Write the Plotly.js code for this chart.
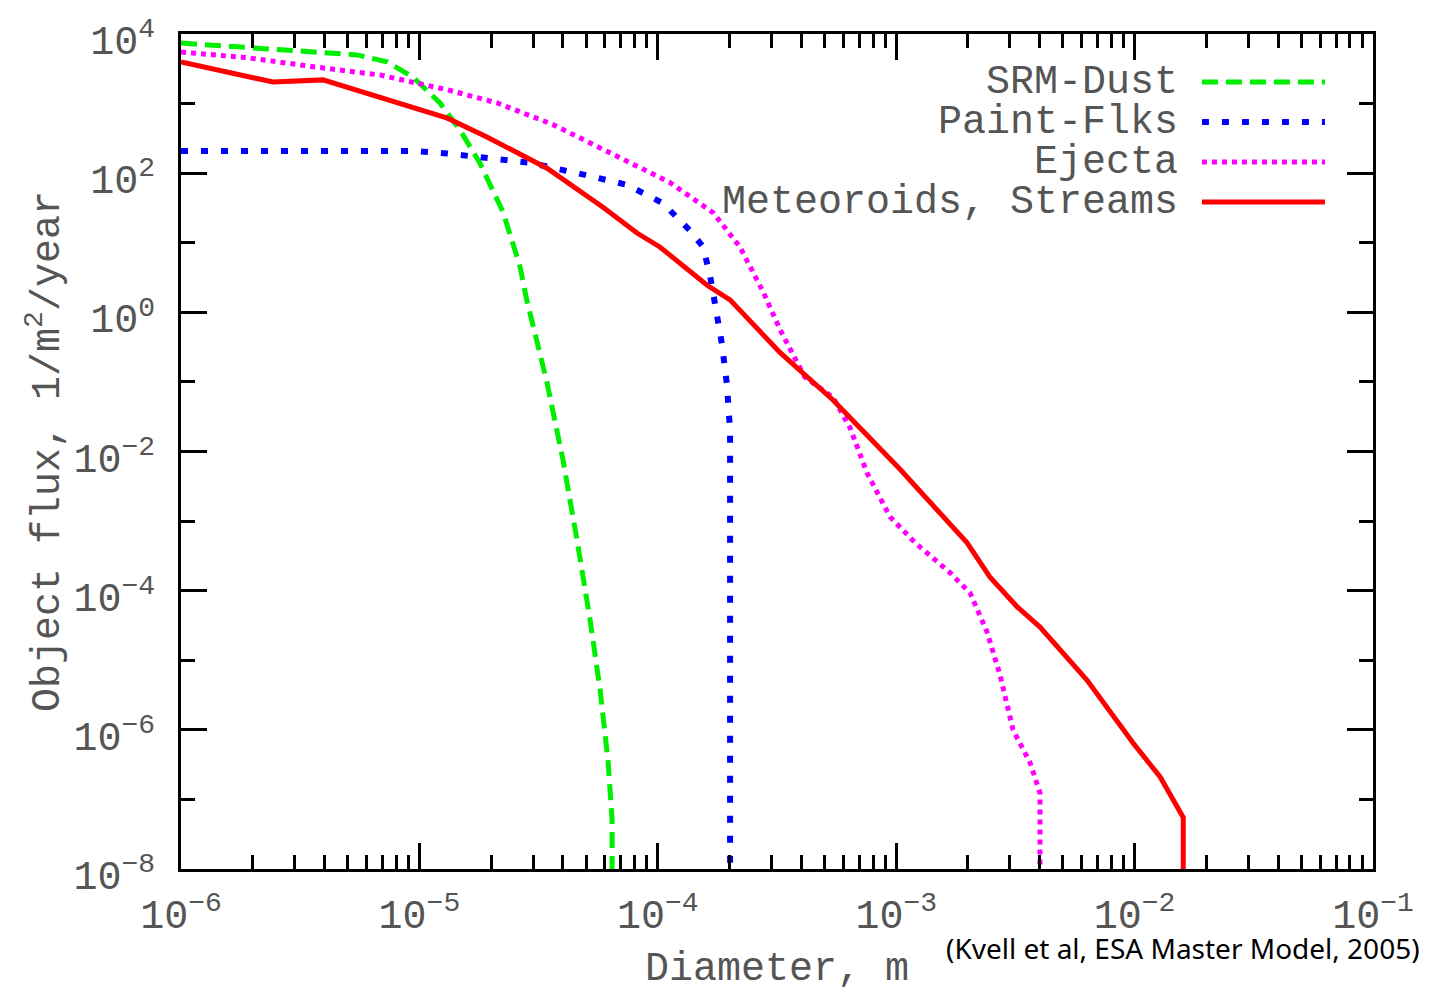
<!DOCTYPE html>
<html>
<head>
<meta charset="utf-8">
<script src="https://cdn.plot.ly/plotly-3.0.1.min.js"></script>
<style>html,body{margin:0;padding:0;background:#fff;}#chart{width:1443px;height:992px;}</style>
</head>
<body>
<div id="chart"></div>
<script>
// ---- data (diameter in m, flux in 1/m^2/year) ----
const seriesNames = ["SRM-Dust", "Paint-Flks", "Ejecta", "Meteoroids, Streams"];

const dustD = [1e-6, 2.00e-6, 3.58e-6, 5.47e-6, 7.31e-6, 9.40e-6, 1.22e-5, 1.48e-5, 1.79e-5, 2.24e-5, 2.64e-5, 2.82e-5, 3.43e-5, 4.00e-5, 4.58e-5, 5.20e-5, 5.73e-5, 6.18e-5, 6.43e-5, 6.43e-5];
const dustF = [7410, 6310, 5500, 5010, 3980, 2400, 1020, 417, 141, 28, 4.6, 1.51, 0.098, 7.6e-3, 5.4e-4, 3.8e-5, 3.7e-6, 3.7e-7, 5.1e-8, 1e-8];

const paintD = [1e-6, 9.40e-6, 1.31e-5, 1.92e-5, 2.91e-5, 5.05e-5, 7.43e-5, 1.05e-4, 1.36e-4, 1.55e-4, 1.66e-4, 1.74e-4, 1.86e-4, 1.95e-4, 2.01e-4, 2.01e-4];
const paintF = [209, 209, 191, 166, 141, 93, 68, 37, 15.1, 8.7, 3.2, 1.29, 0.34, 0.091, 0.020, 1e-8];

const ejectaD = [1e-6, 1.89e-6, 3.58e-6, 6.84e-6, 1.31e-5, 2.12e-5, 3.63e-5, 6.93e-5, 1.12e-4, 1.71e-4, 2.21e-4, 2.76e-4, 3.26e-4, 4.14e-4, 5.43e-4, 6.40e-4, 7.55e-4, 9.42e-4, 1.20e-3, 1.68e-3, 2.04e-3, 2.40e-3, 2.72e-3, 3.09e-3, 3.64e-3, 4.01e-3, 4.01e-3];
const ejectaF = [5500, 4570, 3390, 2570, 1580, 1020, 500, 170, 74, 26.9, 8.7, 2.0, 0.56, 0.117, 0.060, 0.022, 4.9e-3, 1.15e-3, 4.9e-4, 1.82e-4, 9.3e-5, 2.6e-5, 6.3e-6, 1e-6, 3.4e-7, 1.23e-7, 1e-8];

const meteorD = [1e-6, 2.43e-6, 3.94e-6, 6.84e-6, 1.31e-5, 1.92e-5, 3.43e-5, 5.89e-5, 8.18e-5, 1.02e-4, 1.61e-4, 2.01e-4, 3.26e-4, 5.43e-4, 1.04e-3, 1.98e-3, 2.47e-3, 3.21e-3, 4.01e-3, 6.31e-3, 9.84e-3, 1.28e-2, 1.60e-2, 1.60e-2];
const meteorF = [3980, 2040, 2190, 1200, 617, 331, 118, 32.4, 13.8, 8.7, 2.45, 1.51, 0.263, 0.055, 5.5e-3, 4.9e-4, 1.58e-4, 5.9e-5, 3.0e-5, 5.2e-6, 6.5e-7, 2.1e-7, 5.5e-8, 1e-8];

// ---- tick labels ----
const xTickVals = [1e-6, 1e-5, 1e-4, 1e-3, 1e-2, 1e-1];
const xTickText = ["10<sup>−6</sup>", "10<sup>−5</sup>", "10<sup>−4</sup>", "10<sup>−3</sup>", "10<sup>−2</sup>", "10<sup>−1</sup>"];
const yTickVals = [1e-8, 1e-6, 1e-4, 1e-2, 1e0, 1e2, 1e4];
const yTickText = ["10<sup>−8</sup>", "10<sup>−6</sup>", "10<sup>−4</sup>", "10<sup>−2</sup>", "10<sup>0</sup>", "10<sup>2</sup>", "10<sup>4</sup>"];

const xTitle = "Diameter, m";
const yTitle = "Object flux, 1/m<sup>2</sup>/year";
const sourceNote = "(Kvell et al, ESA Master Model, 2005)";

// ---- styles ----
const styles = [
  {color: "#00ee00", width: 5, dash: "16px,8px"},
  {color: "#0000ff", width: 6, dash: "7px,13px"},
  {color: "#ff00ff", width: 5, dash: "5px,5px"},
  {color: "#ff0000", width: 5, dash: "solid"}
];
const xs = [dustD, paintD, ejectaD, meteorD];
const ys = [dustF, paintF, ejectaF, meteorF];

const traces = seriesNames.map((n, i) => ({
  type: "scatter", mode: "lines", name: n,
  x: xs[i], y: ys[i],
  line: {color: styles[i].color, width: styles[i].width, dash: styles[i].dash},
  showlegend: false, hoverinfo: "skip"
}));

const mono = "Liberation Mono, Courier New, monospace";
const textColor = "#555555";

// custom legend (text left, sample line right), in paper coordinates
const legRowY = [0.9425, 0.8946, 0.8467, 0.7988];
const shapes = [];
const annotations = [];
seriesNames.forEach((n, i) => {
  shapes.push({type: "line", xref: "paper", yref: "paper", x0: 0.8565, x1: 0.9597, y0: legRowY[i], y1: legRowY[i],
    line: {color: styles[i].color, width: styles[i].width, dash: styles[i].dash}});
  annotations.push({xref: "paper", yref: "paper", x: 0.838, y: legRowY[i], xanchor: "right", yanchor: "middle",
    text: n, showarrow: false, font: {family: mono, size: 40, color: textColor}});
});
annotations.push({xref: "paper", yref: "paper", x: 1.0411, y: -0.0946, xanchor: "right", yanchor: "middle",
  text: sourceNote, showarrow: false, font: {family: "Noto Sans, sans-serif", size: 28, color: "#000"}});

const axisCommon = {
  showgrid: false, zeroline: false, showline: true, linecolor: "#000", linewidth: 3,
  mirror: "allticks", ticks: "inside", tickcolor: "#000", tickwidth: 3, ticklen: 26,
  tickfont: {family: mono, size: 40, color: textColor}
};

const layout = {
  width: 1443, height: 992,
  margin: {l: 181, r: 70, t: 34, b: 123},
  paper_bgcolor: "#fff", plot_bgcolor: "#fff",
  showlegend: false,
  xaxis: Object.assign({}, axisCommon, {
    type: "log", range: [-6, -1],
    tickmode: "array", tickvals: xTickVals, ticktext: xTickText,
    ticklabelstandoff: 8,
    minor: {ticks: "inside", ticklen: 14, tickwidth: 3, tickcolor: "#000", dtick: "D1", showgrid: false},
    title: {text: xTitle, font: {family: mono, size: 40, color: textColor}, standoff: 23}
  }),
  yaxis: Object.assign({}, axisCommon, {
    type: "log", range: [-8, 4],
    tickmode: "array", tickvals: yTickVals, ticktext: yTickText,
    ticklabelstandoff: 15, ticklabelshift: 6,
    minor: {ticks: "inside", ticklen: 14, tickwidth: 3, tickcolor: "#000", tickmode: "linear", tick0: 0, dtick: 1, showgrid: false},
    title: {text: yTitle, font: {family: mono, size: 40, color: textColor}, standoff: 2}
  }),
  shapes: shapes,
  annotations: annotations
};

Plotly.newPlot("chart", traces, layout, {displayModeBar: false, staticPlot: true});
</script>
</body>
</html>
